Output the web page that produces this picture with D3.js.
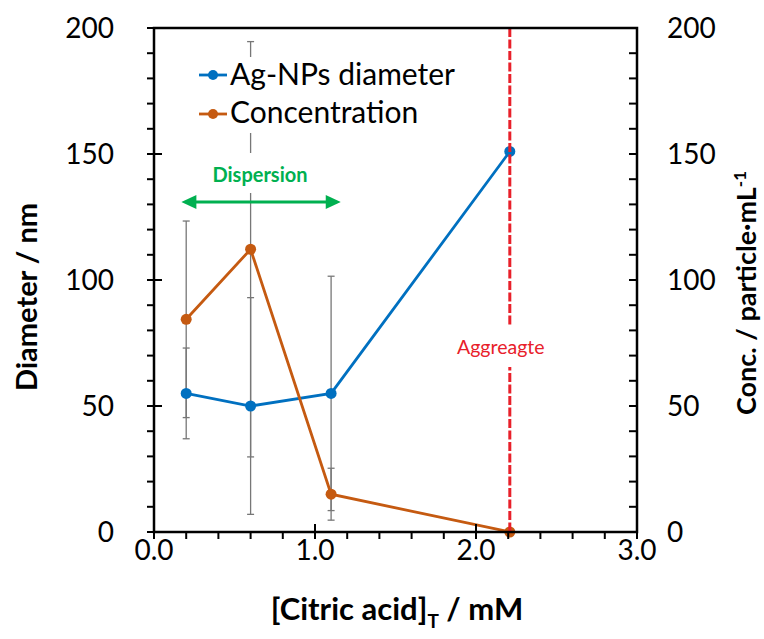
<!DOCTYPE html>
<html><head><meta charset="utf-8">
<script src="https://cdn.jsdelivr.net/npm/d3@7"></script>
<style>body{margin:0;background:#fff}svg{display:block}</style>
</head><body>
<svg id="chart" width="764" height="639"></svg>
<script>
const citric = [0.2, 0.6, 1.1, 2.21];
const diameter = [55, 50, 55, 151];
const diameterErr = [18, 43, 46.5, 0];
const concentration = [84.4, 112.2, 15, 0];
const concentrationErr = [39, 82.4, 10.3, 0];
const xTicks = [0, 1, 2, 3];
const yTicks = [0, 50, 100, 150, 200];
const seriesNames = ["Ag-NPs diameter", "Concentration"];
const annDispersion = "Dispersion";
const annAggregate = "Aggreagte";
const aggregateX = 2.21;
const dispersionRange = [0.17, 1.16];

const FONT = "Lato, 'Open Sans', sans-serif";
const BLUE = "#0070c0", ORANGE = "#c55a11", GREEN = "#00b050", RED = "#e8202a";
const svg = d3.select("#chart");
const L = 154, R = 637, T = 28, B = 532;
const x = d3.scaleLinear().domain([0, 3]).range([L, R]);
const yL = d3.scaleLinear().domain([0, 200]).range([B, T]);
const yR = d3.scaleLinear().domain([0, 200]).range([B, T]);

// error bars
const g = svg.append("g");
function errBars(vals, errs) {
  vals.forEach((v, i) => {
    if (!errs[i]) return;
    const cx = x(citric[i]);
    const y1 = yL(v + errs[i]), y2 = yL(v - errs[i]);
    g.append("line").attr("x1", cx).attr("x2", cx).attr("y1", y1).attr("y2", y2)
      .attr("stroke", "#777").attr("stroke-width", 1.3);
    [y1, y2].forEach(yy => g.append("line").attr("x1", cx - 3.5).attr("x2", cx + 3.5)
      .attr("y1", yy).attr("y2", yy).attr("stroke", "#777").attr("stroke-width", 1.3));
  });
}
errBars(diameter, diameterErr);
errBars(concentration, concentrationErr);

// series
function series(vals, scale, color) {
  const pts = vals.map((v, i) => [x(citric[i]), scale(v)]);
  svg.append("path").attr("d", d3.line()(pts)).attr("fill", "none")
    .attr("stroke", color).attr("stroke-width", 2.8);
  svg.selectAll(null).data(pts).enter().append("circle")
    .attr("cx", d => d[0]).attr("cy", d => d[1]).attr("r", 5.5).attr("fill", color);
}
series(diameter, yL, BLUE);
series(concentration, yR, ORANGE);

// aggregate line
svg.append("line").attr("x1", x(aggregateX)).attr("x2", x(aggregateX))
  .attr("y1", T).attr("y2", B).attr("stroke", RED).attr("stroke-width", 3)
  .attr("stroke-dasharray", "9,2.5");
svg.append("rect").attr("x", x(aggregateX) - 58).attr("y", 325).attr("width", 104).attr("height", 42).attr("fill", "#fff");
svg.append("text").attr("x", x(aggregateX) - 9).attr("y", 354).attr("text-anchor", "middle")
  .attr("font-family", FONT).attr("font-size", 19.5).attr("fill", RED).text(annAggregate);

// legend
svg.append("rect").attr("x", 196).attr("y", 57).attr("width", 266).attr("height", 76).attr("fill", "#fff");
[[BLUE, 75, 85], [ORANGE, 114, 123]].forEach(([c, ly, ty], i) => {
  svg.append("line").attr("x1", 199).attr("x2", 227).attr("y1", ly).attr("y2", ly)
    .attr("stroke", c).attr("stroke-width", 2.8);
  svg.append("circle").attr("cx", 213).attr("cy", ly).attr("r", 5).attr("fill", c);
  svg.append("text").attr("x", 230).attr("y", ty).attr("font-family", FONT)
    .attr("font-size", 30).attr("fill", "#000").text(seriesNames[i]);
});

// dispersion
svg.append("rect").attr("x", 200).attr("y", 153).attr("width", 120).attr("height", 40).attr("fill", "#fff");
svg.append("text").attr("x", 260).attr("y", 182).attr("text-anchor", "middle")
  .attr("font-family", FONT).attr("font-weight", "bold").attr("font-size", 20)
  .attr("fill", GREEN).text(annDispersion);
const ax1 = x(dispersionRange[0]), ax2 = x(dispersionRange[1]), ay = 202;
svg.append("line").attr("x1", ax1 + 10).attr("x2", ax2 - 10).attr("y1", ay).attr("y2", ay)
  .attr("stroke", GREEN).attr("stroke-width", 3);
svg.append("path").attr("d", `M${ax1},${ay} L${ax1 + 15},${ay - 7} L${ax1 + 15},${ay + 7} Z`).attr("fill", GREEN);
svg.append("path").attr("d", `M${ax2},${ay} L${ax2 - 15},${ay - 7} L${ax2 - 15},${ay + 7} Z`).attr("fill", GREEN);

// axes
const axG = svg.append("g");
const SW = 2.5;
axG.append("rect").attr("x", L).attr("y", T).attr("width", R - L).attr("height", B - T)
  .attr("fill", "none").attr("stroke", "#000").attr("stroke-width", SW);
d3.range(0, 201, 10).forEach(v => {
  const yy = yL(v), major = v % 50 === 0;
  axG.append("line").attr("x1", L - 7).attr("x2", major ? L + 8 : L).attr("y1", yy).attr("y2", yy)
    .attr("stroke", "#000").attr("stroke-width", 2);
});
d3.range(0, 201, 10).forEach(v => {
  const yy = yR(v);
  axG.append("line").attr("x1", R - 8).attr("x2", R).attr("y1", yy).attr("y2", yy)
    .attr("stroke", "#000").attr("stroke-width", 2);
});
d3.range(0, 3.01, 0.2).forEach(v => {
  const xx = x(v), major = Math.abs(v - Math.round(v)) < 1e-6;
  axG.append("line").attr("x1", xx).attr("x2", xx).attr("y1", major ? B - 8 : B).attr("y2", B + 7)
    .attr("stroke", "#000").attr("stroke-width", 2);
});
yTicks.forEach(v => {
  axG.append("text").attr("x", 114).attr("y", yL(v)).attr("dy", "0.35em").attr("text-anchor", "end")
    .attr("font-family", FONT).attr("font-size", 28).text(v);
  axG.append("text").attr("x", 667).attr("y", yR(v)).attr("dy", "0.35em").attr("text-anchor", "start")
    .attr("font-family", FONT).attr("font-size", 28).text(v);
});
xTicks.forEach(v => {
  axG.append("text").attr("x", x(v)).attr("y", 560).attr("text-anchor", "middle")
    .attr("font-family", FONT).attr("font-size", 28).text(d3.format(".1f")(v));
});
axG.append("text").attr("transform", "translate(37,297) rotate(-90)").attr("text-anchor", "middle")
  .attr("font-family", FONT).attr("font-weight", "bold").attr("font-size", 29).text("Diameter / nm");
const rt = axG.append("text").attr("transform", "translate(756,293) rotate(-90)").attr("text-anchor", "middle")
  .attr("font-family", FONT).attr("font-weight", "bold").attr("font-size", 27);
rt.append("tspan").text("Conc. / particle·mL");
rt.append("tspan").attr("dy", -10).attr("font-size", 17).text("-1");
const xt = axG.append("text").attr("x", 397).attr("y", 620).attr("text-anchor", "middle")
  .attr("font-family", FONT).attr("font-weight", "bold").attr("font-size", 31);
xt.append("tspan").text("[Citric acid]");
xt.append("tspan").attr("dy", 8).attr("font-size", 19).text("T");
xt.append("tspan").attr("dy", -8).text(" / mM");
</script>
</body></html>
